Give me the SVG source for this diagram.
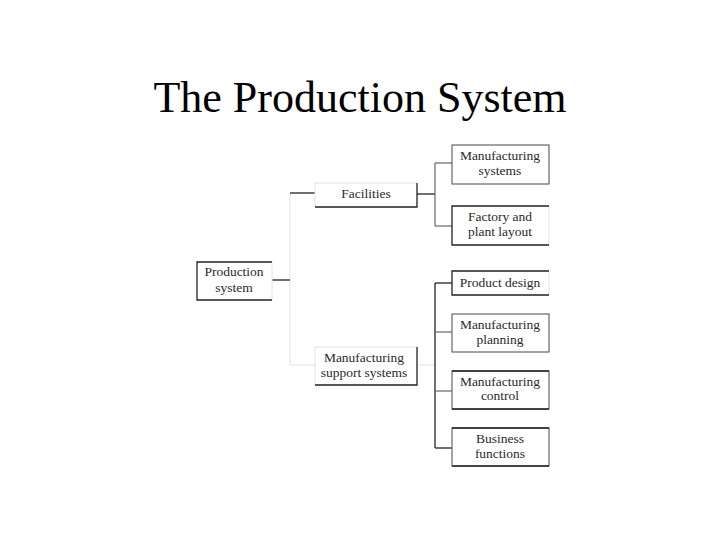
<svg xmlns="http://www.w3.org/2000/svg" width="720" height="540" viewBox="0 0 720 540">
<style>
.t{font-family:"Liberation Serif","Times New Roman",serif;fill:#000}
.n{font-family:"Liberation Serif","Times New Roman",serif;font-size:13.5px;fill:#2a2a2a;text-anchor:middle}
.d{stroke:#222;stroke-width:1.3;fill:none}
.g{stroke:#666;stroke-width:1.2;fill:none}
.f{stroke:#e2e2e2;stroke-width:1;fill:none}
</style>
<rect width="720" height="540" fill="#fff"/>
<text class="t" x="360" y="112" font-size="44" text-anchor="middle">The Production System</text>
<g id="connectors">
<line class="f" x1="290" y1="193" x2="290" y2="365"/>
<line class="d" x1="272" y1="280" x2="290" y2="280"/>
<line class="d" x1="290" y1="193" x2="315" y2="193"/>
<line class="f" x1="290" y1="365" x2="315" y2="365"/>
<line class="d" x1="417" y1="194" x2="435" y2="194"/>
<line class="g" x1="435" y1="163" x2="435" y2="226"/>
<line class="g" x1="435" y1="163" x2="452" y2="163"/>
<line class="g" x1="435" y1="226" x2="452" y2="226"/>
<line class="f" x1="417" y1="365" x2="435" y2="365"/>
<line class="d" x1="435" y1="283" x2="435" y2="448"/>
<line class="d" x1="435" y1="283" x2="452" y2="283"/>
<line class="g" x1="435" y1="332" x2="452" y2="332"/>
<line class="g" x1="435" y1="391" x2="452" y2="391"/>
<line class="d" x1="435" y1="448" x2="452" y2="448"/>
</g>
<g id="production-system">
<line class="f" x1="272" y1="262" x2="272" y2="300"/>
<polyline class="d" points="272,262 197,262 197,300 272,300"/>
<text class="n" x="234" y="276">Production</text>
<text class="n" x="234" y="292">system</text>
</g>
<g id="facilities">
<polyline class="f" points="315,207 315,183 417,183"/>
<polyline class="d" points="417,183 417,207 315,207"/>
<text class="n" x="366" y="198">Facilities</text>
</g>
<g id="manufacturing-support-systems">
<polyline class="f" points="315,385 315,347 417,347"/>
<polyline class="d" points="417,347 417,385 315,385"/>
<text class="n" x="364" y="362">Manufacturing</text>
<text class="n" x="364" y="377">support systems</text>
</g>
<g id="manufacturing-systems">
<rect class="g" x="452" y="145" width="97" height="39"/>
<text class="n" x="500" y="160">Manufacturing</text>
<text class="n" x="500" y="175">systems</text>
</g>
<g id="factory-plant-layout">
<line class="f" x1="549" y1="206" x2="549" y2="245"/>
<polyline class="d" points="549,206 452,206 452,245 549,245"/>
<text class="n" x="500" y="221">Factory and</text>
<text class="n" x="500" y="236">plant layout</text>
</g>
<g id="product-design">
<line class="f" x1="549" y1="271" x2="549" y2="295"/>
<polyline class="d" points="549,271 452,271 452,295 549,295"/>
<text class="n" x="500" y="287">Product design</text>
</g>
<g id="manufacturing-planning">
<rect class="g" x="452" y="314" width="97" height="38"/>
<text class="n" x="500" y="329">Manufacturing</text>
<text class="n" x="500" y="344">planning</text>
</g>
<g id="manufacturing-control">
<rect class="g" x="452" y="371" width="97" height="38"/>
<line class="d" x1="452" y1="371" x2="549" y2="371"/>
<line class="d" x1="452" y1="409" x2="549" y2="409"/>
<text class="n" x="500" y="386">Manufacturing</text>
<text class="n" x="500" y="400">control</text>
</g>
<g id="business-functions">
<rect class="g" x="452" y="428" width="97" height="38"/>
<line class="d" x1="452" y1="428" x2="549" y2="428"/>
<line class="d" x1="452" y1="466" x2="549" y2="466"/>
<text class="n" x="500" y="443">Business</text>
<text class="n" x="500" y="458">functions</text>
</g>
</svg>
